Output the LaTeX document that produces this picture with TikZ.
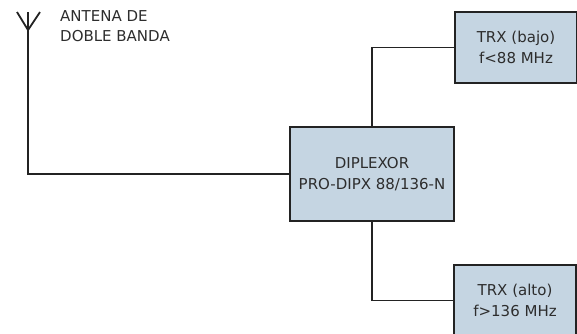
\documentclass[tikz,border=0pt]{standalone}
\usepackage{fontspec}
\setmainfont{DejaVu Sans}
\definecolor{cajaazul}{RGB}{197,213,226}
\definecolor{linea}{RGB}{35,35,35}
\definecolor{texto}{RGB}{45,45,45}
\tikzset{
  caja/.style={draw=linea, line width=1.8pt, fill=cajaazul, text=texto,
    align=center, font=\fontsize{15}{21}\selectfont, inner sep=0pt},
  cable/.style={draw=linea, line width=1.8pt}
}
\begin{document}
\begin{tikzpicture}[x=1pt,y=-1pt]
        \useasboundingbox (0,0) rectangle (577,333);
        % antena
        \coordinate (ant) at (28,30);
        \coordinate (anttop) at (28,12);
        \draw[cable] (17,12) -- (ant) -- (40,12);
        \draw[cable] (anttop) -- (ant);
        \node[anchor=north west, align=left, text=texto,
              font=\fontsize{15}{20}\selectfont, inner sep=0pt] (antlbl) at (60,10)
            {ANTENA DE\\DOBLE BANDA};
        % cajas
        \node[caja, minimum width=164, minimum height=94] (dip) at (372,174)
            {DIPLEXOR\\PRO-DIPX 88/136-N};
        \node[caja, minimum width=122, minimum height=71] (bajo) at (516,47.5)
            {TRX (bajo)\\f<88 MHz};
        \node[caja, minimum width=122, minimum height=71] (alto) at (515,300.5)
            {TRX (alto)\\f>136 MHz};
        % cables
        \draw[cable] (ant) |- (dip.west);
        \draw[cable] (dip.north) |- (bajo.west);
        \draw[cable] (dip.south) |- (alto.west);
    \end{tikzpicture}
\end{document}
